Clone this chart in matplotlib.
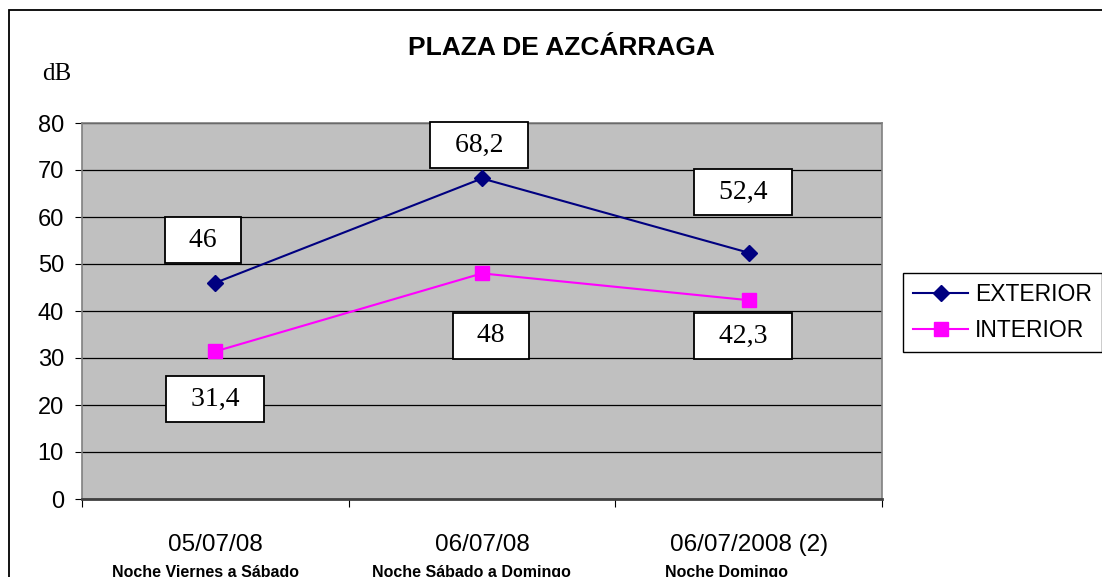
"""
Niveles sonoros en la Plaza de Azcárraga (exterior / interior)
Salida: out.png
"""

import matplotlib.pyplot as plt
from matplotlib.patches import Rectangle

# ── Datos ─────────────────────────────────────────────────────────────────────
fechas = ["05/07/08", "06/07/08", "06/07/2008 (2)"]
noches = ["Noche Viernes a Sábado", "Noche Sábado a Domingo", "Noche Domingo"]
exterior = [46, 68.2, 52.4]
interior = [31.4, 48, 42.3]
etiquetas_ext = ["46", "68,2", "52,4"]
etiquetas_int = ["31,4", "48", "42,3"]

COLORES = {
    "exterior": "#000080",
    "interior": "#FF00FF",
    "fondo":    "#C0C0C0",
    "borde":    "#808080",
}

W, H = 1102, 577
fig = plt.figure(figsize=(W / 100, H / 100), dpi=100)
fig.patch.set_facecolor("white")

# marco exterior del gráfico (cortado a la derecha y abajo)
fig.add_artist(Rectangle((9 / W, -0.5), 2, 1.5 - 10 / H, transform=fig.transFigure,
                         fill=False, edgecolor="black", linewidth=1.3))

ax = fig.add_axes([82 / W, 1 - 499 / H, 800 / W, 376 / H])
ax.set_facecolor(COLORES["fondo"])

x = list(range(len(fechas)))
ax.plot(x, exterior, color=COLORES["exterior"], marker="D", markersize=8.5,
        linewidth=1.5, label="EXTERIOR", zorder=3)
ax.plot(x, interior, color=COLORES["interior"], marker="s", markersize=10,
        linewidth=1.5, label="INTERIOR", zorder=3)

ax.set_xlim(-0.5, 2.5)
ax.set_ylim(0, 80)
ax.set_yticks(range(0, 81, 10))
ax.grid(axis="y", color="black", linewidth=0.9)
ax.set_axisbelow(True)

# ticks del eje x en los límites de las categorías
ax.set_xticks([-0.5, 0.5, 1.5, 2.5])
ax.set_xticklabels([])
ax.set_xticks(x, minor=True)
ax.set_xticklabels(fechas, minor=True, fontsize=17.5, family="Liberation Sans")
ax.tick_params(axis="x", which="minor", length=0, pad=25)
ax.tick_params(axis="x", which="major", length=6, direction="out", color="black")
ax.tick_params(axis="y", length=5, direction="out", pad=8, labelsize=17)
for lbl in ax.get_yticklabels():
    lbl.set_family("Liberation Sans")

for lado in ["top", "right", "left"]:
    ax.spines[lado].set_color(COLORES["borde"])
    ax.spines[lado].set_linewidth(1.2)
ax.spines["bottom"].set_color("#404040")
ax.spines["bottom"].set_linewidth(2)

# etiquetas de datos en cajas (posición a mano, como en el original)
pos_ext = [(-0.046, 55.1), (0.989, 75.3), (1.978, 65.3)]
pos_int = [(-0.001, 21.2), (1.034, 34.7), (1.978, 34.7)]
caja = dict(boxstyle="square,pad=0.38", facecolor="white", edgecolor="black",
            linewidth=1.3)
for (px, py), txt in zip(pos_ext + pos_int, etiquetas_ext + etiquetas_int):
    ax.text(px, py, "  " + txt + "  ", ha="center", va="center", fontsize=20,
            family="Liberation Serif", bbox=caja, zorder=5)

# título y unidad
fig.text(561 / W, 1 - 48 / H, "PLAZA DE AZCÁRRAGA", ha="center", va="center",
         fontsize=19, fontweight="bold", family="Liberation Sans")
fig.text(57 / W, 1 - 74 / H, "dB", ha="center", va="center", fontsize=18,
         family="Liberation Serif")

# descripciones de las noches (cortadas por el borde inferior, como en el original)
pos_noches = [206, 471, 727]
for px, txt in zip(pos_noches, noches):
    fig.text(px / W, 1 - 565 / H, txt, ha="center", va="top", fontsize=11.5,
             fontweight="bold", family="Liberation Sans")

# leyenda
leg = fig.legend(loc="upper left", bbox_to_anchor=(903 / W, 1 - 273 / H),
                 prop={"family": "Liberation Sans", "size": 16.5},
                 frameon=True, fancybox=False, edgecolor="black", framealpha=1,
                 handlelength=2.4, handletextpad=0.3, borderpad=0.45,
                 labelspacing=0.55, borderaxespad=0)
leg.get_frame().set_linewidth(1.0)

fig.savefig("out.png", dpi=100)
